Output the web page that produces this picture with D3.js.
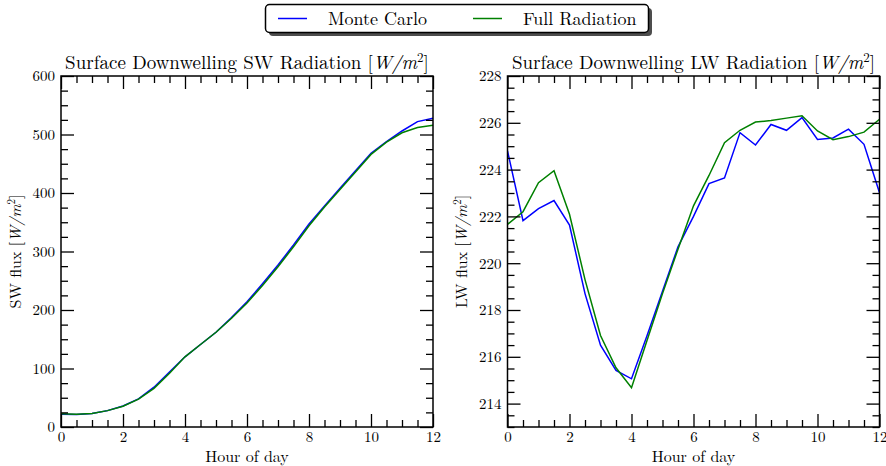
<!DOCTYPE html>
<html>
<head>
<meta charset="utf-8">
<script src="https://cdn.jsdelivr.net/npm/d3@7"></script>
<style>
  html, body { margin: 0; padding: 0; background: #fff; }
  svg { display: block; }
  text, tspan { font-family: "Latin Modern Roman", "CMU Serif", "Liberation Serif", serif; fill: #000; }
</style>
</head>
<body>
<svg id="chart" width="886" height="466"></svg>
<script>
// ---- data ----
const hours = [0,0.5,1,1.5,2,2.5,3,3.5,4,4.5,5,5.5,6,6.5,7,7.5,8,8.5,9,9.5,10,10.5,11,11.5,12];
const swMonteCarlo = [22,21.5,23,28,36,48,68,94,120,141,162,187,214,245,277,311,347,378,408,438,468,488,506,522,528];
const swFullRad    = [22.5,21.8,23.2,28,35.5,47.5,66,92,120,141,162,186,212,242,274,308,344,376,406,436,466,487,503,512,516];
const lwMonteCarlo = [224.8,221.82,222.33,222.68,221.63,218.7,216.5,215.42,215.06,216.9,218.8,220.7,222.0,223.4,223.64,225.58,225.05,225.93,225.68,226.22,225.29,225.35,225.73,225.08,223.01];
const lwFullRad    = [221.66,222.2,223.44,223.95,222.09,219.3,216.91,215.53,214.68,216.7,218.7,220.6,222.45,223.75,225.15,225.68,226.03,226.1,226.2,226.3,225.65,225.28,225.41,225.6,226.15];
const xTicks = [0,2,4,6,8,10,12];
const swTicks = [0,100,200,300,400,500,600];
const lwTicks = [214,216,218,220,222,224,226,228];
const seriesNames = ["Monte Carlo", "Full Radiation"];
const seriesColors = ["#0000ff", "#008000"];

const svg = d3.select("#chart");

function panel(opts) {
  const g = svg.append("g");
  const x = d3.scaleLinear().domain([0, 12]).range([opts.x0, opts.x1]);
  const y = d3.scaleLinear().domain(opts.ydom).range([opts.y1, opts.y0]);
  const clipId = "clip" + opts.id;
  svg.append("clipPath").attr("id", clipId).append("rect")
    .attr("x", opts.x0).attr("y", opts.y0).attr("width", opts.x1 - opts.x0).attr("height", opts.y1 - opts.y0);

  const line = d3.line().x((d, i) => x(hours[i])).y(d => y(d));
  opts.series.forEach((s, k) => {
    g.append("path").datum(s).attr("d", line)
      .attr("fill", "none").attr("stroke", seriesColors[k]).attr("stroke-width", 1.5)
      .attr("stroke-linejoin", "miter").attr("clip-path", `url(#${clipId})`);
  });

  const majorLen = 13, minorLen = 7;
  const xMinor = d3.range(0, 12.001, 0.5).filter(v => !xTicks.includes(v));
  const yMinor = d3.range(opts.ydom[0], opts.ydom[1] + 1e-9, opts.yMinorStep).filter(v => Math.abs(v / opts.yMajorStep - Math.round(v / opts.yMajorStep)) > 1e-6);

  const mk = (axisFn, scale, vals, len, fmt) => axisFn(scale).tickValues(vals).tickSizeInner(-len).tickSizeOuter(0).tickPadding(len + 6).tickFormat(fmt);
  const none = () => "";
  const addAxis = (axis, tx, ty) => {
    const a = g.append("g").attr("transform", `translate(${tx},${ty})`).call(axis);
    a.select(".domain").remove();
    a.selectAll("line").attr("stroke", "#000").attr("stroke-width", 1.3);
    a.selectAll("text").style("font-size", "15px").attr("fill", "#000");
    return a;
  };
  const b = addAxis(mk(d3.axisBottom, x, xTicks, majorLen, d3.format("d")), 0, opts.y1);
  b.selectAll("text").attr("y", 4).attr("dy", "0.71em");
  addAxis(mk(d3.axisBottom, x, xMinor, minorLen, none), 0, opts.y1);
  addAxis(mk(d3.axisTop, x, xTicks, majorLen, none), 0, opts.y0);
  addAxis(mk(d3.axisTop, x, xMinor, minorLen, none), 0, opts.y0);
  const l = addAxis(mk(d3.axisLeft, y, opts.yTicks, majorLen, d3.format("d")), opts.x0, 0);
  l.selectAll("text").attr("x", -6);
  addAxis(mk(d3.axisLeft, y, yMinor, minorLen, none), opts.x0, 0);
  addAxis(mk(d3.axisRight, y, opts.yTicks, majorLen, none), opts.x1, 0);
  addAxis(mk(d3.axisRight, y, yMinor, minorLen, none), opts.x1, 0);

  g.append("rect").attr("x", opts.x0).attr("y", opts.y0)
    .attr("width", opts.x1 - opts.x0).attr("height", opts.y1 - opts.y0)
    .attr("fill", "none").attr("stroke", "#000").attr("stroke-width", 1.5);

  const t = g.append("text").attr("x", (opts.x0 + opts.x1) / 2).attr("y", opts.y0 - 7)
    .attr("text-anchor", "middle").attr("fill", "#000").style("font-size", "19px");
  t.append("tspan").attr("fill", "#000").text(opts.title + " [");
  t.append("tspan").attr("fill", "#000").attr("font-style", "italic").text("W/m");
  t.append("tspan").attr("fill", "#000").attr("dy", -7).style("font-size", "13px").text("2");
  t.append("tspan").attr("fill", "#000").attr("dy", 7).text("]");

  g.append("text").attr("x", (opts.x0 + opts.x1) / 2).attr("y", opts.y1 + 35)
    .attr("text-anchor", "middle").style("font-size", "16px").text("Hour of day");

  const yl = g.append("text")
    .attr("transform", `translate(${opts.ylabX},${(opts.y0 + opts.y1) / 2}) rotate(-90)`)
    .attr("text-anchor", "middle").attr("fill", "#000").style("font-size", "16px");
  yl.append("tspan").attr("fill", "#000").text(opts.ylabel + " [");
  yl.append("tspan").attr("fill", "#000").attr("font-style", "italic").text("W/m");
  yl.append("tspan").attr("fill", "#000").attr("dy", -6).style("font-size", "11px").text("2");
  yl.append("tspan").attr("fill", "#000").attr("dy", 6).text("]");
}

panel({ id: 1, x0: 61, x1: 433, y0: 76, y1: 427, ydom: [0, 600], yTicks: swTicks, yMajorStep: 100, yMinorStep: 25,
  series: [swMonteCarlo, swFullRad], title: "Surface Downwelling SW Radiation", ylabel: "SW flux", ylabX: 21 });
panel({ id: 2, x0: 507.5, x1: 879.5, y0: 76, y1: 427, ydom: [213, 228], yTicks: lwTicks, yMajorStep: 2, yMinorStep: 0.5,
  series: [lwMonteCarlo, lwFullRad], title: "Surface Downwelling LW Radiation", ylabel: "LW flux", ylabX: 467 });

const lg = svg.append("g");
lg.append("rect").attr("x", 269).attr("y", 8).attr("width", 383).attr("height", 28).attr("rx", 4)
  .attr("fill", "#4d4d4d");
lg.append("rect").attr("x", 265.5).attr("y", 4.5).attr("width", 383).attr("height", 28).attr("rx", 4)
  .attr("fill", "#fff").attr("stroke", "#000").attr("stroke-width", 1.5);
const legX = [278, 473];
seriesNames.forEach((n, k) => {
  lg.append("line").attr("x1", legX[k]).attr("x2", legX[k] + 29).attr("y1", 18.5).attr("y2", 18.5)
    .attr("stroke", seriesColors[k]).attr("stroke-width", 1.5);
  lg.append("text").attr("x", legX[k] + 50).attr("y", 24.5).style("font-size", "18px").text(n);
});
</script>
</body>
</html>
